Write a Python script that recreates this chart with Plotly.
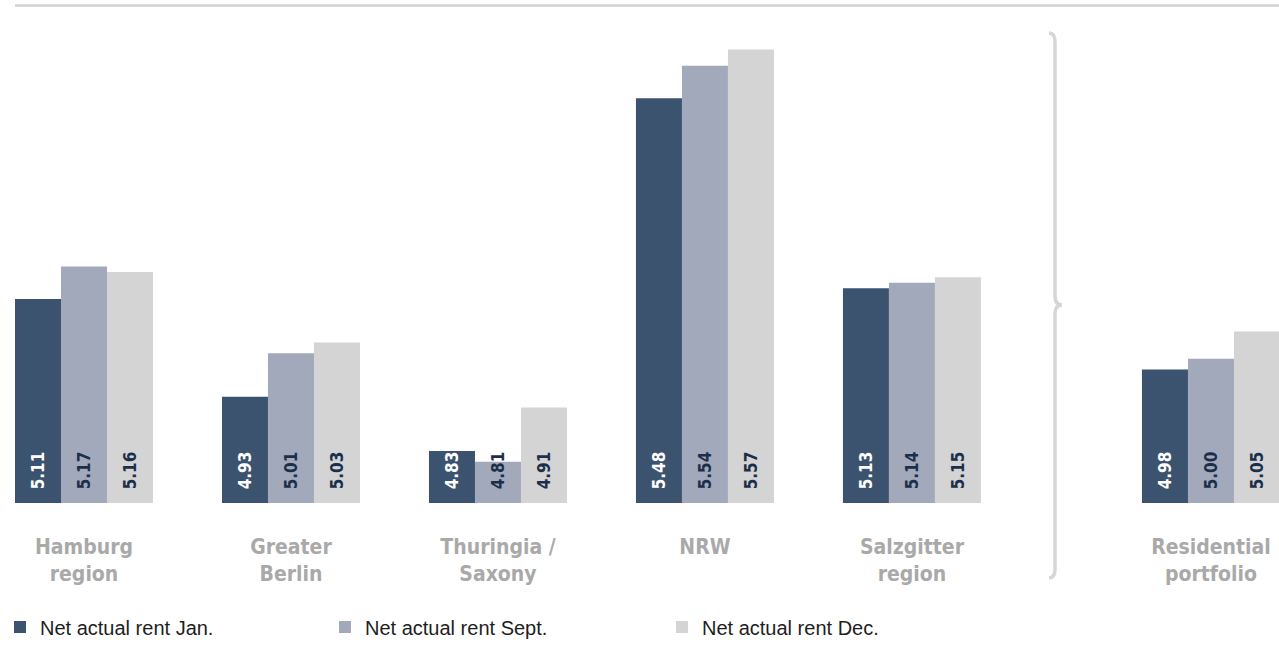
import plotly.graph_objects as go

# Net actual rent (EUR per sqm) by region
regions = ["Hamburg<br>region", "Greater<br>Berlin", "Thuringia /<br>Saxony", "NRW", "Salzgitter<br>region"]
rent_jan = [5.11, 4.93, 4.83, 5.48, 5.13]
rent_sept = [5.17, 5.01, 4.81, 5.54, 5.14]
rent_dec = [5.16, 5.03, 4.91, 5.57, 5.15]

portfolio = ["Residential<br>portfolio"]
portfolio_jan = [4.98]
portfolio_sept = [5.00]
portfolio_dec = [5.05]

series_names = ["Net actual rent Jan.", "Net actual rent Sept.", "Net actual rent Dec."]
colors = ["#3b536f", "#a1a9ba", "#d4d4d4"]
text_colors = ["#ffffff", "#1c2f4a", "#1c2f4a"]

W, H = 1279, 648
BASE_PX = 503  # pixel row of the bar baseline

# value axis starts above zero; bars rise from this floor
y_bottom = 4.734
y_top = y_bottom + BASE_PX / 542.5


def px_to_paper(x, y):
    return x / W, (BASE_PX - y) / BASE_PX


value_font = dict(family="Liberation Sans Narrow, DejaVu Sans Condensed, Roboto, sans-serif",
                  size=17, weight="bold")

fig = go.Figure()
legends = ["legend", "legend2", "legend3"]
for i, (name, main_vals, port_vals) in enumerate(zip(
        series_names,
        [rent_jan, rent_sept, rent_dec],
        [portfolio_jan, portfolio_sept, portfolio_dec])):
    for xs, vals, xa, ya, show in [(regions, main_vals, "x", "y", True),
                                   (portfolio, port_vals, "x2", "y2", False)]:
        fig.add_trace(go.Bar(
            x=xs,
            y=[v - y_bottom for v in vals],
            base=y_bottom,
            text=[f"\u00a0\u00a0{v:.2f}" for v in vals],
            textposition="inside",
            insidetextanchor="start",
            textangle=-90,
            textfont=dict(color=text_colors[i], **value_font),
            marker=dict(color=colors[i], line=dict(width=0)),
            name=name, legend=legends[i],
            xaxis=xa, yaxis=ya, showlegend=show,
            hoverinfo="skip",
        ))

tick_font = dict(family="Liberation Sans Narrow, DejaVu Sans Condensed, Roboto, sans-serif",
                 size=21, color="#a9a9a9", weight="bold")

axis_common = dict(type="category", showgrid=False, zeroline=False, showline=False,
                   ticks="", tickfont=tick_font, ticklabelstandoff=29, fixedrange=True)

shapes = []
# thin rule across the top
x0, y0 = px_to_paper(15, 5.5)
x1, _ = px_to_paper(1279, 5.5)
shapes.append(dict(type="line", xref="paper", yref="paper", x0=x0, x1=x1, y0=y0, y1=y0,
                   line=dict(color="#d3d3d3", width=2.5)))

# curly brace separating the regions from the portfolio total
pts = {
    "a": (1049, 33), "b": (1055, 42), "c": (1055, 296), "d": (1062, 305),
    "e": (1055, 314), "f": (1055, 569), "g": (1049, 578),
}
P = {k: px_to_paper(*v) for k, v in pts.items()}


def fmt(p):
    return f"{p[0]:.5f},{p[1]:.5f}"


ctrl1 = px_to_paper(1055, 33)
ctrl2 = px_to_paper(1055, 305)
ctrl4 = px_to_paper(1055, 578)
path = (f"M{fmt(P['a'])} Q{fmt(ctrl1)} {fmt(P['b'])} L{fmt(P['c'])} "
        f"Q{fmt(ctrl2)} {fmt(P['d'])} Q{fmt(ctrl2)} {fmt(P['e'])} "
        f"L{fmt(P['f'])} Q{fmt(ctrl4)} {fmt(P['g'])}")
shapes.append(dict(type="path", xref="paper", yref="paper", path=path,
                   line=dict(color="#d6d6d6", width=3.5)))

legend_font = dict(family="Liberation Sans, Arial, sans-serif", size=20, color="#1e1e1e")
legend_common = dict(orientation="h", xanchor="left", yanchor="middle",
                     font=legend_font, bgcolor="rgba(0,0,0,0)", itemclick=False,
                     itemdoubleclick=False)
ly = (BASE_PX - 627) / BASE_PX

fig.update_layout(
    width=W, height=H,
    margin=dict(l=0, r=0, t=0, b=H - BASE_PX),
    paper_bgcolor="white", plot_bgcolor="white",
    barmode="group", bargap=1 - 138 / 207, bargroupgap=0,
    xaxis=dict(domain=[0, 1050 / W], range=[-0.4058, 4.667], anchor="y", **axis_common),
    xaxis2=dict(domain=[1100 / W, 1], range=[-0.536, 0.3285], anchor="y2", **axis_common),
    yaxis=dict(range=[y_bottom, y_top], visible=False, fixedrange=True),
    yaxis2=dict(range=[y_bottom, y_top], visible=False, fixedrange=True, anchor="x2"),
    shapes=shapes,
    legend=dict(x=0, y=ly, **legend_common),
    legend2=dict(x=px_to_paper(325, 0)[0], y=ly, **legend_common),
    legend3=dict(x=px_to_paper(662, 0)[0], y=ly, **legend_common),
    uniformtext=dict(minsize=10, mode="show"),
)

fig.write_html("out.html")
